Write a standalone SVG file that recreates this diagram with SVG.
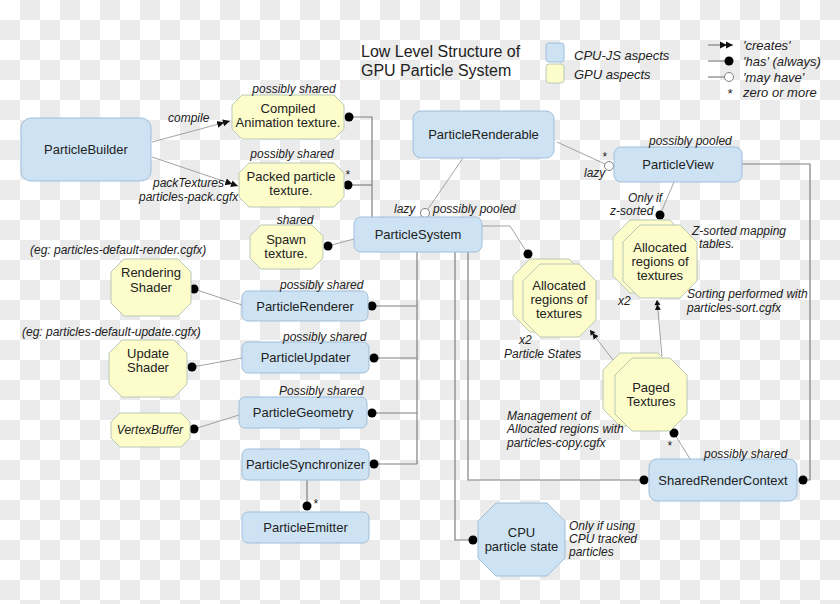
<svg xmlns="http://www.w3.org/2000/svg" width="840" height="604" viewBox="0 0 840 604">
<defs>
<pattern id="chk" width="40" height="40" patternUnits="userSpaceOnUse">
<rect width="40" height="40" fill="#ffffff"/>
<rect x="20" y="0" width="20" height="20" fill="#ebebeb"/>
<rect x="0" y="20" width="20" height="20" fill="#ebebeb"/>
</pattern>
<marker id="dbl" viewBox="-13 -4 14 8" refX="0" refY="0" markerWidth="14" markerHeight="8" markerUnits="userSpaceOnUse" orient="auto">
<path d="M0,0 L-7,-3.5 L-7,3.5 Z M-6,0 L-13,-3.5 L-13,3.5 Z" fill="#111"/>
</marker>
<marker id="sgl" viewBox="-10 -4 11 8" refX="0" refY="0" markerWidth="11" markerHeight="8" markerUnits="userSpaceOnUse" orient="auto">
<path d="M0,0 L-5,-3 L-5,3 Z M-4,0 L-10,-3 L-10,3 Z" fill="#111"/>
</marker>
</defs>
<style>
.cpu{fill:#cde3f3;stroke:#9fbfdb;stroke-width:1}
.gpu{fill:#fdfdcb;stroke:#bac8b4;stroke-width:1}
.t{font-family:"Liberation Sans",Arial,sans-serif;font-size:13px;fill:#222;text-anchor:middle}
.l{font-family:"Liberation Sans",Arial,sans-serif;font-size:12px;font-style:italic;fill:#222}
.lg{font-family:"Liberation Sans",Arial,sans-serif;font-size:13px;font-style:italic;fill:#222}
.ttl{font-family:"Liberation Sans",Arial,sans-serif;font-size:16px;fill:#222}
.c{fill:none;stroke:#808080;stroke-width:1.2}
.d{fill:none;stroke:#999;stroke-width:0.9}
.dot{fill:#000}
.o{fill:#fff;stroke:#808080;stroke-width:1}
</style>
<rect width="840" height="604" fill="url(#chk)"/>

<g id="title">
<text class="ttl" x="361" y="57">Low Level Structure of</text>
<text class="ttl" x="361" y="76">GPU Particle System</text>
</g>

<g id="legend">
<rect class="cpu" x="546" y="43" width="18" height="19" rx="3"/>
<rect class="gpu" x="546" y="64" width="18" height="19" rx="3"/>
<text class="lg" x="574" y="60">CPU-JS aspects</text>
<text class="lg" x="574" y="79">GPU aspects</text>
<line class="c" x1="708" y1="45" x2="733" y2="45" marker-end="url(#dbl)" stroke="#333"/>
<text class="lg" x="743" y="50">'creates'</text>
<line class="c" x1="708" y1="61" x2="725" y2="61" stroke="#333"/>
<circle class="dot" cx="729" cy="61" r="4.5"/>
<text class="lg" x="743" y="66">'has' (always)</text>
<line class="c" x1="708" y1="77" x2="725" y2="77"/>
<circle class="o" cx="729" cy="77" r="4.5"/>
<text class="lg" x="743" y="82">'may have'</text>
<text class="lg" x="727" y="98">*</text>
<text class="lg" x="743" y="97">zero or more</text>
</g>

<g id="connectors">
<line class="d" x1="152" y1="142" x2="230" y2="121" marker-end="url(#dbl)"/>
<line class="d" x1="152" y1="157" x2="238" y2="186" marker-end="url(#dbl)"/>
<polyline class="c" points="349,117 372,117 372,217"/>
<line class="c" x1="349" y1="185" x2="372" y2="185"/>
<line class="d" x1="328" y1="246" x2="354" y2="239"/>
<line class="d" x1="428" y1="209" x2="463" y2="158"/>
<line class="d" x1="557" y1="142" x2="605" y2="164"/>
<polyline class="c" points="742,164 810,164 810,480 803,480"/>
<line class="d" x1="674" y1="182" x2="660" y2="215"/>
<polyline class="d" points="482,226 510,226 528,254"/>
<line class="d" x1="613" y1="360" x2="590" y2="330" marker-end="url(#sgl)"/>
<line class="d" x1="662" y1="356" x2="657" y2="300" marker-end="url(#sgl)"/>
<line class="d" x1="674" y1="433" x2="690" y2="459"/>
<line class="c" x1="417" y1="252" x2="417" y2="464"/>
<line class="c" x1="372" y1="306" x2="417" y2="306"/>
<line class="c" x1="374" y1="358" x2="417" y2="358"/>
<line class="c" x1="372" y1="413" x2="417" y2="413"/>
<line class="c" x1="374" y1="464" x2="417" y2="464"/>
<polyline class="c" points="455,252 455,540 473,540"/>
<polyline class="c" points="468,252 468,480 644,480"/>
<line class="c" x1="307" y1="480" x2="307" y2="506"/>
<line class="d" x1="194" y1="289" x2="242" y2="305"/>
<line class="d" x1="192" y1="367" x2="242" y2="358"/>
<line class="d" x1="194" y1="429" x2="239" y2="415"/>
<circle class="dot" cx="349" cy="117" r="4.5"/>
<circle class="dot" cx="348" cy="185" r="4.5"/>
<circle class="dot" cx="328" cy="246" r="4.5"/>
<circle class="o" cx="425" cy="213" r="4.5"/>
<circle class="o" cx="609" cy="166" r="4.5"/>
<circle class="dot" cx="803" cy="480" r="4.5"/>
<circle class="dot" cx="660" cy="215" r="4.5"/>
<circle class="dot" cx="528" cy="254" r="4.5"/>
<circle class="dot" cx="674" cy="433" r="4.5"/>
<circle class="dot" cx="372" cy="306" r="4.5"/>
<circle class="dot" cx="374" cy="358" r="4.5"/>
<circle class="dot" cx="372" cy="413" r="4.5"/>
<circle class="dot" cx="374" cy="464" r="4.5"/>
<circle class="dot" cx="473" cy="540" r="4.5"/>
<circle class="dot" cx="644" cy="480" r="4.5"/>
<circle class="dot" cx="307" cy="506" r="4.5"/>
<circle class="dot" cx="194" cy="289" r="4.5"/>
<circle class="dot" cx="192" cy="367" r="4.5"/>
<circle class="dot" cx="194" cy="429" r="4.5"/>
<text class="l" x="168" y="122">compile</text>
<text class="l" x="153" y="187">packTextures</text>
<text class="l" x="139" y="201">particles-pack.cgfx</text>
<text class="l" x="345" y="179">*</text>
<text class="l" x="394" y="213">lazy</text>
<text class="l" x="433" y="213">possibly pooled</text>
<text class="l" x="602" y="161">*</text>
<text class="l" x="584" y="177">lazy</text>
<text class="l" x="628" y="202">Only if</text>
<text class="l" x="610" y="215">z-sorted</text>
<text class="l" x="667" y="450">*</text>
<text class="l" x="313" y="508">*</text>
</g>

<g id="ParticleBuilder">
<rect class="cpu" x="21" y="118" width="130" height="63" rx="10"/>
<text class="t" x="86" y="154">ParticleBuilder</text>
</g>

<g id="CompiledAnimationTexture">
<polygon class="gpu" points="242,95 334,95 344,105 344,129 334,139 242,139 232,129 232,105"/>
<text class="t" x="288" y="113">Compiled</text>
<text class="t" x="288" y="127">Animation texture.</text>
<text class="l" x="294" y="93" text-anchor="middle">possibly shared</text>
</g>

<g id="PackedParticleTexture">
<polygon class="gpu" points="249,163 334,163 344,173 344,197 334,207 249,207 239,197 239,173"/>
<text class="t" x="291" y="181">Packed particle</text>
<text class="t" x="291" y="195">texture.</text>
<text class="l" x="292" y="158" text-anchor="middle">possibly shared</text>
</g>

<g id="SpawnTexture">
<polygon class="gpu" points="261,225 312,225 323,236 323,258 312,269 261,269 250,258 250,236"/>
<text class="t" x="286" y="244">Spawn</text>
<text class="t" x="286" y="258">texture.</text>
<text class="l" x="295" y="224" text-anchor="middle">shared</text>
</g>

<g id="RenderingShader">
<polygon class="gpu" points="124,259 178,259 191,272 191,303 178,316 124,316 111,303 111,272"/>
<text class="t" x="151" y="277">Rendering</text>
<text class="t" x="151" y="292">Shader</text>
<text class="l" x="30" y="254">(eg: particles-default-render.cgfx)</text>
</g>

<g id="UpdateShader">
<polygon class="gpu" points="122,340 174,340 187,353 187,384 174,397 122,397 109,384 109,353"/>
<text class="t" x="148" y="358">Update</text>
<text class="t" x="148" y="372">Shader</text>
<text class="l" x="22" y="336">(eg: particles-default-update.cgfx)</text>
</g>

<g id="VertexBuffer">
<polygon class="gpu" points="120,413 181,413 190,422 190,438 181,447 120,447 111,438 111,422"/>
<text class="l" x="150" y="434" text-anchor="middle">VertexBuffer</text>
</g>

<g id="ParticleRenderable">
<rect class="cpu" x="413" y="111" width="141" height="47" rx="8"/>
<text class="t" x="483.5" y="139">ParticleRenderable</text>
</g>

<g id="ParticleView">
<rect class="cpu" x="614" y="147" width="128" height="35" rx="7"/>
<text class="t" x="678" y="169">ParticleView</text>
<text class="l" x="649" y="145">possibly pooled</text>
</g>

<g id="ParticleSystem">
<rect class="cpu" x="354" y="217" width="128" height="35" rx="7"/>
<text class="t" x="418" y="239">ParticleSystem</text>
</g>

<g id="ParticleRenderer">
<rect class="cpu" x="242" y="291" width="126" height="30" rx="6"/>
<text class="t" x="305" y="310.5">ParticleRenderer</text>
<text class="l" x="280" y="289">possibly shared</text>
</g>

<g id="ParticleUpdater">
<rect class="cpu" x="242" y="342" width="127" height="31" rx="6"/>
<text class="t" x="305.5" y="362">ParticleUpdater</text>
<text class="l" x="283" y="341">possibly shared</text>
</g>

<g id="ParticleGeometry">
<rect class="cpu" x="239" y="397" width="128" height="31" rx="6"/>
<text class="t" x="303" y="417">ParticleGeometry</text>
<text class="l" x="279" y="395">Possibly shared</text>
</g>

<g id="ParticleSynchronizer">
<rect class="cpu" x="242" y="449" width="127" height="31" rx="6"/>
<text class="t" x="305.5" y="469">ParticleSynchronizer</text>
</g>

<g id="ParticleEmitter">
<rect class="cpu" x="242" y="512" width="127" height="31" rx="6"/>
<text class="t" x="305.5" y="532">ParticleEmitter</text>
</g>

<g id="ZSortedAllocatedRegions">
<polygon class="gpu" transform="translate(-10,-5)" points="640,225 680,225 697,242 697,281 680,298 640,298 623,281 623,242"/>
<polygon class="gpu" points="640,225 680,225 697,242 697,281 680,298 640,298 623,281 623,242"/>
<text class="t" x="660" y="252">Allocated</text>
<text class="t" x="660" y="266">regions of</text>
<text class="t" x="660" y="280">textures</text>
<text class="l" x="692" y="235">Z-sorted mapping</text>
<text class="l" x="699" y="248">tables.</text>
<text class="l" x="618" y="305">x2</text>
<text class="l" x="687" y="298">Sorting performed with</text>
<text class="l" x="687" y="312">particles-sort.cgfx</text>
</g>

<g id="AllocatedRegions">
<polygon class="gpu" transform="translate(-10,-5)" points="540,264 579,264 596,281 596,320 579,337 540,337 523,320 523,281"/>
<polygon class="gpu" points="540,264 579,264 596,281 596,320 579,337 540,337 523,320 523,281"/>
<text class="t" x="559" y="290">Allocated</text>
<text class="t" x="559" y="304">regions of</text>
<text class="t" x="559" y="318">textures</text>
<text class="l" x="519" y="344">x2</text>
<text class="l" x="504" y="358">Particle States</text>
</g>

<g id="PagedTextures">
<polygon class="gpu" transform="translate(-12,-5)" points="632,358 670,358 687,375 687,414 670,431 632,431 615,414 615,375"/>
<polygon class="gpu" points="632,358 670,358 687,375 687,414 670,431 632,431 615,414 615,375"/>
<text class="t" x="651" y="392">Paged</text>
<text class="t" x="651" y="406">Textures</text>
<text class="l" x="507" y="420">Management of</text>
<text class="l" x="507" y="433">Allocated regions with</text>
<text class="l" x="507" y="447">particles-copy.cgfx</text>
</g>

<g id="SharedRenderContext">
<rect class="cpu" x="649" y="459" width="148" height="42" rx="8"/>
<text class="t" x="723" y="484.5">SharedRenderContext</text>
<text class="l" x="704" y="458">possibly shared</text>
</g>

<g id="CPUParticleState">
<polygon class="cpu" points="496,503 547,503 565,521 565,558 547,576 496,576 478,558 478,521"/>
<text class="t" x="521.5" y="537">CPU</text>
<text class="t" x="521.5" y="551">particle state</text>
<text class="l" x="569" y="530">Only if using</text>
<text class="l" x="569" y="543">CPU tracked</text>
<text class="l" x="569" y="556">particles</text>
</g>
</svg>
